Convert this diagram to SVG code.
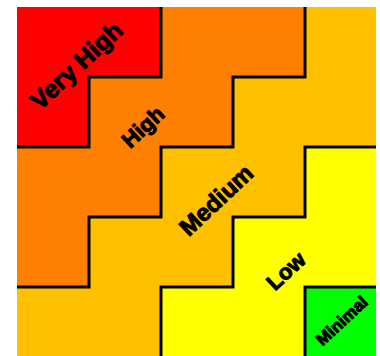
<svg xmlns="http://www.w3.org/2000/svg" width="380" height="356" viewBox="0 0 380 356">
  <style>
    .zone { stroke: none; }
    .label { font-family: "Liberation Sans", Arial, sans-serif; font-weight: bold; fill: #000; text-anchor: middle; dominant-baseline: central; stroke: #000; stroke-width: 1; stroke-linejoin: round; }
    .edge { fill: none; stroke: #000; stroke-width: 3; stroke-linejoin: miter; }
  </style>
  <rect x="0" y="0" width="380" height="356" fill="#fff"/>
  <g id="very-high">
    <path class="zone" fill="#FF0000" d="M17,7 H161 V77 H89 V147 H17 Z"/>
    <text class="label" font-size="25" transform="translate(76,65) rotate(-43)">Very High</text>
  </g>
  <g id="high">
    <path class="zone" fill="#FF8000" d="M161,7 H305 V77 H233 V147 H161 V217 H89 V287 H17 V147 H89 V77 H161 Z"/>
    <text class="label" font-size="22" transform="translate(143,127) rotate(-43)">High</text>
  </g>
  <g id="medium">
    <path class="zone" fill="#FFC000" d="M305,7 H376 V147 H305 V217 H233 V287 H161 V356 H17 V287 H89 V217 H161 V147 H233 V77 H305 Z"/>
    <text class="label" font-size="24" transform="translate(216,200) rotate(-43)">Medium</text>
  </g>
  <g id="low">
    <path class="zone" fill="#FFFF00" d="M305,147 H376 V287 H305 V356 H161 V287 H233 V217 H305 Z"/>
    <text class="label" font-size="22" transform="translate(286,271) rotate(-43)">Low</text>
  </g>
  <g id="minimal">
    <path class="zone" fill="#00FF00" d="M305,287 H376 V356 H305 Z"/>
    <text class="label" font-size="17" transform="translate(342,321) rotate(-43)">Minimal</text>
  </g>
  <g id="connectors">
    <path class="edge" d="M161,7 V77 H89 V147 H17"/>
    <path class="edge" d="M305,7 V77 H233 V147 H161 V217 H89 V287 H17"/>
    <path class="edge" d="M376,147 H305 V217 H233 V287 H161 V356"/>
    <path class="edge" d="M376,287 H305 V356"/>
  </g>
</svg>
